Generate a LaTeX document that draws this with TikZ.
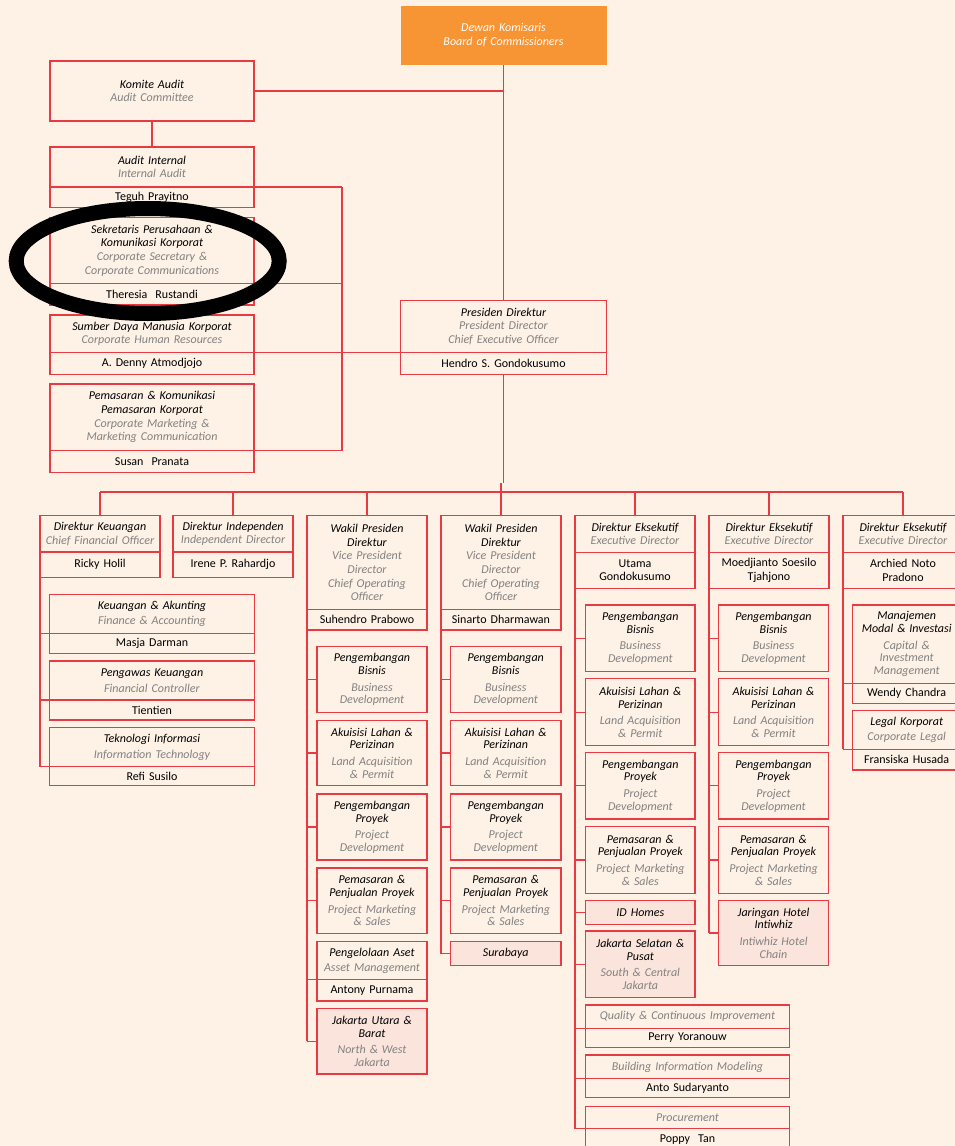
\documentclass[tikz,border=0pt]{standalone}
\usepackage{fontspec}
\setmainfont[WordSpace=0.85]{Carlito}
\definecolor{bg}{RGB}{254,241,230}
\definecolor{ln}{RGB}{231,58,66}
\definecolor{eng}{RGB}{130,130,130}
\definecolor{lf}{RGB}{251,228,219}
\definecolor{orng}{RGB}{247,148,51}
\newcommand\ti[1]{{\itshape #1}}
\newcommand\en[1]{{\itshape\color{eng}#1}}
\newcommand\gp{\\[3.5pt]}
% \bx[style]{name}{x1}{y1}{x2}{y2}{content}
\newcommand\bx[7][]{%
  \pgfmathsetmacro\bxw{#5-#3}\pgfmathsetmacro\bxh{#6-#4}\pgfmathsetmacro\bxt{#5-#3-2}%
  \node[box,#1,minimum width=\bxw pt,minimum height=\bxh pt,text width=\bxt pt] (#2) at ({(#3+#5)/2},{(#4+#6)/2}) {#7};}
\begin{document}
\begin{tikzpicture}[x=1pt,y=-1pt,
  box/.style={draw=ln,line width=1.1pt,rectangle,inner sep=0pt,outer sep=0pt,align=center,
    font=\fontsize{12}{13.6}\selectfont},
  kid/.style={font=\fontsize{12}{12.8}\selectfont},
  hl/.style={fill=lf},
  conn/.style={draw=ln,line width=1.1pt}]
\useasboundingbox (0,0) rectangle (955,1146);
\fill[bg] (0,0) rectangle (955,1146);
\clip (0,0) rectangle (955,1146);
\coordinate (sbus) at (342,0);
\coordinate (mbus) at (0,492);
\coordinate (jog) at (0,483);

% ---------- top ----------
\bx[draw=none,fill=orng,text=white,font=\fontsize{12}{14}\selectfont\itshape]{dewan}{400.5}{6}{606.5}{65}{Dewan Komisaris\\Board of Commissioners}
\bx{komite}{50}{61}{254}{121}{\ti{Komite Audit}\\\en{Audit Committee}}
\bx{aiT}{50}{147}{254}{187}{\ti{Audit Internal}\\\en{Internal Audit}}
\bx{aiN}{50}{187}{254}{207.5}{Teguh Prayitno}
\bx{skT}{50}{217.5}{254}{283.3}{\ti{Sekretaris Perusahaan \&}\\\ti{Komunikasi Korporat}\\\en{Corporate Secretary \&}\\\en{Corporate Communications}}
\bx{skN}{50}{283.3}{254}{305}{Theresia\ \ Rustandi}
\bx{sdmT}{50}{315}{254}{352.5}{\ti{Sumber Daya Manusia Korporat}\\\en{Corporate Human Resources}}
\bx{sdmN}{50}{352.5}{254}{374.3}{A. Denny Atmodjojo}
\bx{pmT}{50}{384}{254}{450.5}{\ti{Pemasaran \& Komunikasi}\\\ti{Pemasaran Korporat}\\\en{Corporate Marketing \&}\\\en{Marketing Communication}}
\bx{pmN}{50}{450.5}{254}{472.3}{Susan\ \ Pranata}
\bx{presT}{400.5}{300.5}{606.5}{352.5}{\ti{Presiden Direktur}\\\en{President Director}\\\en{Chief Executive Officer}}
\bx{presN}{400.5}{352.5}{606.5}{374.3}{Hendro S. Gondokusumo}

% ---------- directors ----------
\bx{cfoT}{40}{515.5}{160}{552}{\ti{Direktur Keuangan}\\\en{Chief Financial Officer}}
\bx{cfoN}{40}{552}{160}{577.5}{Ricky Holil}
\bx{indT}{173}{515.5}{293}{552}{\ti{Direktur Independen}\\\en{Independent Director}}
\bx{indN}{173}{552}{293}{577.5}{Irene P. Rahardjo}
\bx{wp1T}{307}{515.5}{427}{609.5}{\ti{Wakil Presiden}\\\ti{Direktur}\\\en{Vice President}\\\en{Director}\\\en{Chief Operating}\\\en{Officer}}
\bx{wp1N}{307}{609.5}{427}{630}{Suhendro Prabowo}
\bx{wp2T}{441}{515.5}{561}{609.5}{\ti{Wakil Presiden}\\\ti{Direktur}\\\en{Vice President}\\\en{Director}\\\en{Chief Operating}\\\en{Officer}}
\bx{wp2N}{441}{609.5}{561}{630}{Sinarto Dharmawan}
\bx{ed1T}{575}{515.5}{695}{552.3}{\ti{Direktur Eksekutif}\\\en{Executive Director}}
\bx{ed1N}{575}{552.3}{695}{588.3}{Utama\\Gondokusumo}
\bx{ed2T}{709}{515.5}{829}{552.3}{\ti{Direktur Eksekutif}\\\en{Executive Director}}
\bx{ed2N}{709}{552.3}{829}{588.3}{Moedjianto Soesilo\\Tjahjono}
\bx{ed3T}{843}{515.5}{963}{552.3}{\ti{Direktur Eksekutif}\\\en{Executive Director}}
\bx{ed3N}{843}{552.3}{963}{588.3}{Archied Noto\\Pradono}

% ---------- CFO children ----------
\bx{kaT}{49.5}{594.3}{254.5}{633.3}{\ti{Keuangan \& Akunting}\\[2pt]\en{Finance \& Accounting}}
\bx{kaN}{49.5}{633.3}{254.5}{653.7}{Masja Darman}
\bx{pkT}{49.5}{661}{254.5}{700}{\ti{Pengawas Keuangan}\\[2pt]\en{Financial Controller}}
\bx{pkN}{49.5}{700}{254.5}{720}{Tientien}
\bx{tiT}{49.5}{727.7}{254.5}{766.7}{\ti{Teknologi Informasi}\\[2pt]\en{Information Technology}}
\bx{tiN}{49.5}{766.7}{254.5}{785.7}{Refi Susilo}

% ---------- WaPres 1 children ----------
\bx[kid]{wp1a}{317}{646.7}{427}{712.7}{\ti{Pengembangan}\\\ti{Bisnis}\gp\en{Business}\\\en{Development}}
\bx[kid]{wp1b}{317}{720.3}{427}{785.7}{\ti{Akuisisi Lahan \&}\\\ti{Perizinan}\gp\en{Land Acquisition}\\\en{\& Permit}}
\bx[kid]{wp1c}{317}{794}{427}{860}{\ti{Pengembangan}\\\ti{Proyek}\gp\en{Project}\\\en{Development}}
\bx[kid]{wp1d}{317}{868}{427}{933.7}{\ti{Pemasaran \&}\\\ti{Penjualan Proyek}\gp\en{Project Marketing}\\\en{\& Sales}}
\bx{wp1eT}{317}{941.7}{427}{979.7}{\ti{Pengelolaan Aset}\\[1pt]\en{Asset Management}}
\bx{wp1eN}{317}{979.7}{427}{1001}{Antony Purnama}
\bx[kid,hl]{wp1f}{317}{1008.3}{427}{1074}{\ti{Jakarta Utara \&}\\\ti{Barat}\gp\en{North \& West}\\\en{Jakarta}}

% ---------- WaPres 2 children ----------
\bx[kid]{wp2a}{450.5}{646.7}{561}{712.7}{\ti{Pengembangan}\\\ti{Bisnis}\gp\en{Business}\\\en{Development}}
\bx[kid]{wp2b}{450.5}{720.3}{561}{785.7}{\ti{Akuisisi Lahan \&}\\\ti{Perizinan}\gp\en{Land Acquisition}\\\en{\& Permit}}
\bx[kid]{wp2c}{450.5}{794}{561}{860}{\ti{Pengembangan}\\\ti{Proyek}\gp\en{Project}\\\en{Development}}
\bx[kid]{wp2d}{450.5}{868}{561}{933.7}{\ti{Pemasaran \&}\\\ti{Penjualan Proyek}\gp\en{Project Marketing}\\\en{\& Sales}}
\bx[hl]{wp2e}{450.5}{941.7}{561}{965.7}{\ti{Surabaya}}

% ---------- ED1 children ----------
\bx[kid]{e1a}{585.7}{605}{695}{671.7}{\ti{Pengembangan}\\\ti{Bisnis}\gp\en{Business}\\\en{Development}}
\bx[kid]{e1b}{585.7}{678.7}{695}{745.7}{\ti{Akuisisi Lahan \&}\\\ti{Perizinan}\gp\en{Land Acquisition}\\\en{\& Permit}}
\bx[kid]{e1c}{585.7}{752.7}{695}{819}{\ti{Pengembangan}\\\ti{Proyek}\gp\en{Project}\\\en{Development}}
\bx[kid]{e1d}{585.7}{826.7}{695}{893.3}{\ti{Pemasaran \&}\\\ti{Penjualan Proyek}\gp\en{Project Marketing}\\\en{\& Sales}}
\bx[hl]{e1e}{585.7}{900.3}{695}{924.3}{\ti{ID Homes}}
\bx[kid,hl]{e1f}{585.7}{931}{695}{997.7}{\ti{Jakarta Selatan \&}\\\ti{Pusat}\gp\en{South \& Central}\\\en{Jakarta}}
\bx{e1gT}{585.7}{1005}{789.3}{1028.3}{\en{Quality \& Continuous Improvement}}
\bx{e1gN}{585.7}{1028.3}{789.3}{1047.7}{Perry Yoranouw}
\bx{e1hT}{585.7}{1055}{789.3}{1078.7}{\en{Building Information Modeling}}
\bx{e1hN}{585.7}{1078.7}{789.3}{1097.7}{Anto Sudaryanto}
\bx{e1iT}{585.7}{1106.7}{789.3}{1128.7}{\en{Procurement}}
\bx{e1iN}{585.7}{1128.7}{789.3}{1150}{Poppy\ \ Tan}

% ---------- ED2 children ----------
\bx[kid]{e2a}{718.3}{605}{828.7}{671.7}{\ti{Pengembangan}\\\ti{Bisnis}\gp\en{Business}\\\en{Development}}
\bx[kid]{e2b}{718.3}{678.7}{828.7}{745.7}{\ti{Akuisisi Lahan \&}\\\ti{Perizinan}\gp\en{Land Acquisition}\\\en{\& Permit}}
\bx[kid]{e2c}{718.3}{752.7}{828.7}{819}{\ti{Pengembangan}\\\ti{Proyek}\gp\en{Project}\\\en{Development}}
\bx[kid]{e2d}{718.3}{826.7}{828.7}{893.3}{\ti{Pemasaran \&}\\\ti{Penjualan Proyek}\gp\en{Project Marketing}\\\en{\& Sales}}
\bx[kid,hl]{e2e}{718.3}{900.3}{828.7}{965.7}{\ti{Jaringan Hotel}\\\ti{Intiwhiz}\gp\en{Intiwhiz Hotel}\\\en{Chain}}

% ---------- ED3 children ----------
\bx[kid]{e3aT}{852.3}{605}{961}{683.3}{\ti{Manajemen}\\\ti{Modal \& Investasi}\gp\en{Capital \&}\\\en{Investment}\\\en{Management}}
\bx{e3aN}{852.3}{683.3}{961}{703.3}{Wendy Chandra}
\bx{e3bT}{852.3}{710.7}{961}{749.3}{\ti{Legal Korporat}\\[1pt]\en{Corporate Legal}}
\bx{e3bN}{852.3}{749.3}{961}{770}{Fransiska Husada}

% ---------- connectors ----------
\draw[conn] (dewan.south) -- (presT.north);
\draw[conn] (komite.east) -- (komite.east -| dewan.south);
\draw[conn] (komite.south) -- (aiT.north);
\draw[conn] (aiT.south east) -- (aiT.south east -| sbus);
\draw[conn] (skT.south east) -- (skT.south east -| sbus);
\draw[conn] (pmT.south east) -- (pmT.south east -| sbus);
\draw[conn] (sdmT.south east) -- (presT.south west);
\draw[conn] (aiT.south east -| sbus) -- (pmT.south east -| sbus);
\draw[conn] (presN.south) -- (presN.south |- jog);
\draw[conn] (cfoT.north |- mbus) -- (ed3T.north |- mbus);
\draw[conn] (wp2T.north) -- (wp2T.north |- jog);
\foreach \d in {cfoT,indT,wp1T,ed1T,ed2T,ed3T}
  \draw[conn] (\d.north) -- (\d.north |- mbus);
% CFO
\draw[conn] (cfoN.south west) -- (tiT.south west -| cfoN.south west);
\foreach \c in {kaT,pkT,tiT}
  \draw[conn] (\c.south west -| cfoN.south west) -- (\c.south west);
% WaPres 1
\draw[conn] (wp1N.south west) -- (wp1f.west -| wp1N.south west);
\foreach \c in {wp1a.west,wp1b.west,wp1c.west,wp1d.west,wp1eT.south west,wp1f.west}
  \draw[conn] (\c -| wp1N.south west) -- (\c);
% WaPres 2
\draw[conn] (wp2N.south west) -- (wp2e.west -| wp2N.south west);
\foreach \c in {wp2a,wp2b,wp2c,wp2d,wp2e}
  \draw[conn] (\c.west -| wp2N.south west) -- (\c.west);
% ED1
\draw[conn] (ed1N.south west) -- (e1iT.south west -| ed1N.south west);
\foreach \c in {e1a.west,e1b.west,e1c.west,e1d.west,e1e.west,e1f.west,e1gT.south west,e1hT.south west,e1iT.south west}
  \draw[conn] (\c -| ed1N.south west) -- (\c);
% ED2
\draw[conn] (ed2N.south west) -- (e2e.west -| ed2N.south west);
\foreach \c in {e2a,e2b,e2c,e2d,e2e}
  \draw[conn] (\c.west -| ed2N.south west) -- (\c.west);
% ED3
\draw[conn] (ed3N.south west) -- (e3bT.south west -| ed3N.south west);
\foreach \c in {e3aT,e3bT}
  \draw[conn] (\c.south west -| ed3N.south west) -- (\c.south west);

% ---------- highlight ellipse ----------
\draw[black,line width=15pt] (147.7,261) ellipse [x radius=131.5pt, y radius=52.5pt];
\end{tikzpicture}
\end{document}
